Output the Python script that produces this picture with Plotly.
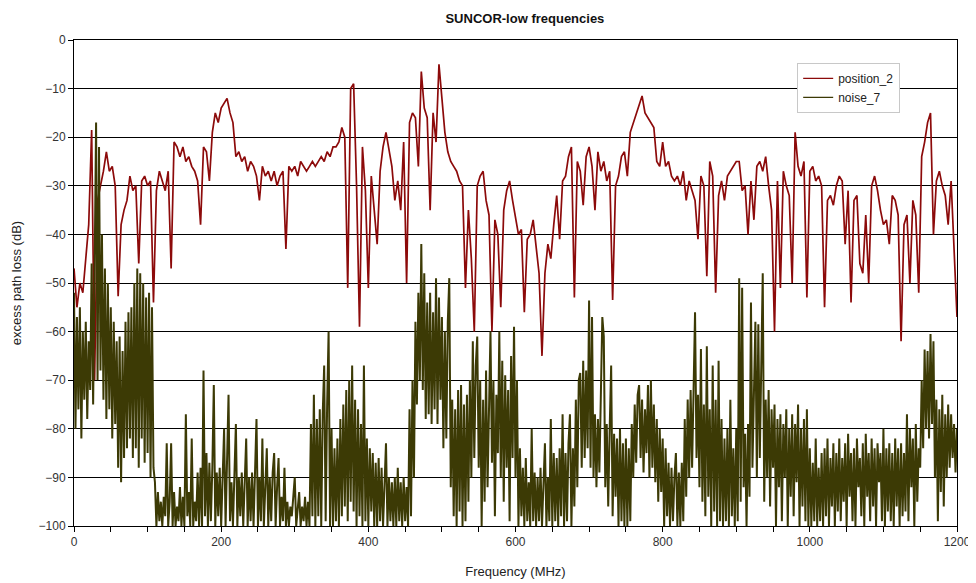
import numpy as np
import plotly.graph_objects as go

# position_2: excess path loss (dB), sampled every 4 MHz from 0 to 1200 MHz
position_2 = [
    -47, -55, -50, -52, -45, -38, -18.5, -70, -33, -30,
    -27, -23, -27, -26, -30, -52.7, -38, -35, -33, -28,
    -31, -30, -46, -29, -28, -30, -29, -54, -31, -27,
    -29, -31, -27, -47, -21, -22, -24, -22, -25, -24,
    -26, -27, -29, -38, -22, -23, -29, -19, -15, -17,
    -14, -13, -12, -15, -17, -24, -23, -25, -24, -27,
    -25, -26, -28, -33, -26, -28, -27, -29, -27, -30,
    -28, -27, -43, -26, -27, -26, -28, -25, -26, -27,
    -26, -25, -26, -25, -24, -25, -23, -24, -22, -22,
    -21, -18, -20, -51, -10, -9, -30, -59, -22, -31,
    -51, -28, -35, -42, -27, -22, -19, -23, -26, -33,
    -29, -35, -21, -50, -17, -15, -16, -26, -6.5, -14,
    -16, -35, -15, -21, -5, -12, -19, -23, -25, -26,
    -27, -29, -30, -51, -35, -45, -60, -30, -28, -27,
    -33, -36, -60, -37, -40, -55, -35, -31, -29, -33,
    -37, -40, -39, -56, -41, -40, -37, -43, -48, -65,
    -48, -42, -45, -38, -32, -41, -29, -28, -24, -22,
    -53, -25, -27, -34, -24, -22, -26, -35, -23, -27,
    -25, -29, -27, -53.5, -30, -28, -24, -23, -28, -19,
    -17, -15, -13, -11.5, -15, -16, -17, -18, -25, -26,
    -21, -26, -25, -28, -29, -28, -30, -27, -33, -29,
    -31, -33, -41, -28, -30, -48.6, -25, -28, -52, -32,
    -29, -33, -28, -27, -26, -25, -25, -31, -30, -40,
    -29, -37, -26, -25, -27, -24, -30, -35, -60, -29,
    -51, -27, -30, -32, -50, -19, -26, -28, -25, -53,
    -27, -26, -29, -28, -30, -55, -33, -32, -34, -30,
    -28, -29, -42, -31, -54, -33, -32, -46, -48, -36,
    -50, -30, -28, -31, -35, -38, -37, -42, -32, -33,
    -36, -62, -38, -36, -50, -33, -36, -52, -24, -21,
    -17, -15, -40, -29, -27, -30, -32, -38, -29, -42,
    -57,
]
position_step_mhz = 4

# noise_7: excess path loss (dB), sampled every 2 MHz from 0 to 1200 MHz
noise_7 = [
    -52, -80, -57, -76, -55,
    -82, -60, -74, -58, -78,
    -62, -72, -46, -75, -48,
    -17, -70, -22, -68, -40,
    -74, -47, -78, -50, -76,
    -55, -82, -58, -79, -62,
    -88, -61, -91, -64, -86,
    -58, -84, -56, -82, -55,
    -86, -50, -84, -47, -88,
    -48, -82, -50, -87, -53,
    -85, -52, -90, -55, -88,
    -91, -100, -93, -99, -95,
    -100, -94, -98, -83, -100,
    -95, -83, -100, -93, -100,
    -96, -99, -92, -100, -94,
    -100, -77, -98, -93, -100,
    -82, -100, -95, -99, -89,
    -100, -88, -100, -68, -98,
    -85, -100, -87, -99, -88,
    -71, -100, -89, -98, -88,
    -100, -90, -80, -100, -89,
    -73, -99, -91, -100, -88,
    -79, -100, -90, -98, -89,
    -100, -91, -82, -100, -90,
    -99, -89, -100, -91, -78,
    -100, -90, -99, -82, -100,
    -91, -84, -100, -90, -99,
    -89, -85, -100, -92, -86,
    -100, -94, -99, -88, -100,
    -95, -100, -96, -98, -94,
    -90, -100, -97, -93, -100,
    -96, -99, -94, -100, -95,
    -100, -79, -98, -73, -100,
    -78, -98, -76, -100, -77,
    -67, -99, -75, -60, -100,
    -80, -100, -84, -99, -82,
    -100, -78, -98, -75, -96,
    -72, -99, -70, -95, -67,
    -97, -74, -100, -76, -98,
    -79, -100, -67, -99, -82,
    -100, -84, -97, -85, -100,
    -87, -100, -86, -99, -88,
    -100, -89, -83, -100, -90,
    -99, -91, -100, -90, -100,
    -88, -99, -91, -100, -90,
    -99, -92, -100, -76, -98,
    -70, -90, -58, -75, -52,
    -70, -42, -72, -48, -78,
    -54, -77, -52, -79, -56,
    -76, -49, -79, -53, -74,
    -57, -84, -60, -82, -58,
    -49, -92, -74, -98, -76,
    -100, -72, -97, -71, -100,
    -75, -99, -73, -95, -70,
    -90, -62, -86, -67, -61,
    -88, -70, -100, -74, -95,
    -68, -92, -72, -60, -87,
    -70, -98, -73, -85, -60,
    -90, -66, -95, -69, -88,
    -72, -99, -65, -86, -59,
    -90, -70, -100, -84, -98,
    -88, -100, -86, -99, -91,
    -100, -80, -99, -89, -100,
    -90, -99, -88, -100, -91,
    -83, -100, -90, -99, -78,
    -100, -85, -99, -86, -100,
    -84, -98, -77, -100, -85,
    -99, -83, -77, -100, -84,
    -96, -74, -92, -70, -68.5,
    -88, -66, -86, -68, -84,
    -53.6, -88, -57, -90, -77,
    -92, -78, -89, -76, -57,
    -61, -92, -79, -96, -80,
    -67, -98, -81, -94, -82,
    -100, -80, -99, -83, -100,
    -82, -100, -84, -99, -79,
    -90, -75, -87, -73, -71,
    -86, -74, -89, -76, -85,
    -71, -90, -70, -88, -75,
    -91, -78, -95, -80, -93,
    -82, -100, -84, -98, -87,
    -100, -88, -99, -90, -85,
    -100, -89, -100, -87, -99,
    -78, -94, -74, -90, -72,
    -88, -70, -56, -86, -73,
    -92, -63.6, -95, -75, -98,
    -63, -94, -76, -100, -67,
    -97, -74, -100, -66, -99,
    -78, -100, -82, -99, -80,
    -100, -74, -98, -84, -100,
    -80, -99, -49, -95, -51,
    -92, -81, -100, -79, -94,
    -54, -88, -72, -58, -90,
    -58.5, -86, -70, -48, -95,
    -74, -90, -72, -96, -76,
    -88, -75, -100, -78, -92,
    -77, -99, -79, -90, -76,
    -100, -80, -94, -77, -98,
    -79, -91, -75, -100, -80,
    -96, -78, -99, -76, -100,
    -84, -100, -87, -99, -82,
    -100, -88, -99, -85, -100,
    -84, -98, -82, -100, -86,
    -96, -83, -100, -85, -97,
    -82, -99, -86, -95, -83,
    -100, -81, -94, -85, -99,
    -84, -100, -82, -92, -86,
    -98, -83, -100, -81, -94,
    -85, -99, -82, -96, -84,
    -100, -83, -91, -85, -99,
    -80, -100, -84, -97, -83,
    -99, -85, -100, -82, -96,
    -84, -100, -83, -98, -85,
    -97, -77, -99, -80, -92,
    -82, -100, -79, -95, -84,
    -88, -70, -84, -63.7, -80,
    -64, -82, -60.5, -79, -62,
    -90, -74, -99, -76, -93,
    -73, -96, -77, -90, -75,
    -88, -77, -86, -79, -89,
    -80,
]
noise_step_mhz = 2

series_names = ["position_2", "noise_7"]
series_colors = ["#8C0A0A", "#3C3A05"]

x_tick_values = [0, 200, 400, 600, 800, 1000, 1200]
y_tick_values = [0, -10, -20, -30, -40, -50, -60, -70, -80, -90, -100]

freq_position = np.arange(len(position_2)) * position_step_mhz
freq_noise = np.arange(len(noise_7)) * noise_step_mhz

FONT = "Liberation Sans, Arial, sans-serif"

fig = go.Figure()
fig.add_trace(go.Scatter(
    x=freq_position, y=position_2, mode="lines", name=series_names[0],
    line=dict(color=series_colors[0], width=1.7), showlegend=False,
    legendgroup="p",
))
fig.add_trace(go.Scatter(
    x=freq_noise, y=noise_7, mode="lines", name=series_names[1],
    line=dict(color=series_colors[1], width=2), showlegend=False,
    legendgroup="n",
))
# legend entries drawn with thin line samples, as in the reference
for name, color, grp in zip(series_names, series_colors, ["p", "n"]):
    fig.add_trace(go.Scatter(
        x=[None], y=[None], mode="lines", name=name, legendgroup=grp,
        line=dict(color=color, width=1.2), hoverinfo="skip",
    ))

# the page body has an 8px margin, so the figure is drawn at (8, 8)
fig.update_layout(
    width=968, height=575,
    margin=dict(l=66, r=19, t=32, b=57, autoexpand=False),
    paper_bgcolor="white", plot_bgcolor="white",
    font=dict(family=FONT, size=12, color="#222"),
    title=dict(text="<b>SUNCOR-low frequencies</b>", x=0.534, xanchor="center",
               y=0.9826, yanchor="middle", yref="container", automargin=False,
               font=dict(family=FONT, size=13, color="#111")),
    showlegend=True,
    legend=dict(x=0.819, y=0.953, xanchor="left", yanchor="top",
                bgcolor="white", bordercolor="#c8c8c8", borderwidth=1,
                font=dict(family=FONT, size=12, color="#222"),
                tracegroupgap=0, itemwidth=30),
)
fig.update_xaxes(
    range=[0, 1200], tickvals=x_tick_values, ticks="outside", ticklen=5,
    tickcolor="black", showgrid=False, showline=True, linecolor="black",
    linewidth=1, mirror=True, zeroline=False, automargin=False,
    ticklabeloverflow="allow", tickfont=dict(size=12, color="#333"),
    minor=dict(dtick=50, ticks="outside", ticklen=5, tickcolor="black", showgrid=False),
    title=dict(text="Frequency (MHz)", standoff=18, font=dict(size=13, color="#222")),
)
fig.update_yaxes(
    range=[-100, 0], tickvals=y_tick_values, ticks="outside", ticklen=5,
    tickcolor="black", showgrid=True, gridcolor="black", gridwidth=1,
    showline=True, linecolor="black", linewidth=1, mirror=True, zeroline=False,
    automargin=False, tickfont=dict(size=12, color="#333"),
    title=dict(text="excess path loss (dB)", standoff=14, font=dict(size=13, color="#222")),
)

fig.write_html("out.html")
